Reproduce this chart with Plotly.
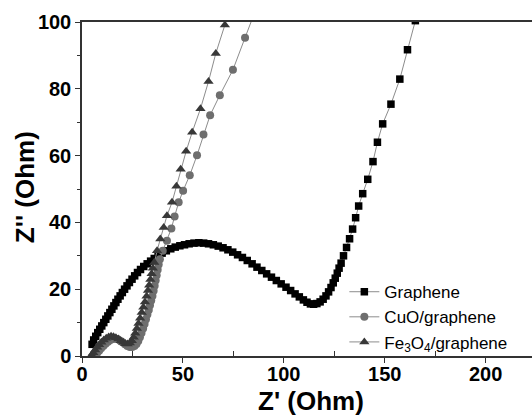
import plotly.graph_objects as go

# ---- data ----
graphene_x = [5.0, 5.8, 6.8, 7.8, 8.8, 9.8, 10.8, 11.8, 12.8, 13.8, 14.8, 15.8, 16.8, 17.8, 18.9,
              20.0, 21.1, 22.3, 23.5, 24.8, 26.1, 27.5, 29.0, 30.6, 32.3, 34.0, 35.8, 37.7, 39.7,
              41.8, 44.0, 46.2, 48.5, 50.8, 53.1, 55.5, 57.9, 60.3, 62.7, 65.1, 67.5, 69.9, 72.3,
              74.7, 77.1, 79.5, 81.9, 84.3, 86.7, 89.1, 91.5, 93.9, 96.3, 98.7, 101.1, 103.4,
              105.6, 107.7, 109.7, 111.5, 113.2, 114.8, 116.4, 118.0, 119.5, 120.9, 122.2, 123.4,
              124.5, 125.5, 126.5, 127.4, 128.4, 129.6, 131.1, 132.6, 134.1, 135.6, 137.1, 139.1,
              141.6, 144.2, 146.4, 149.0, 153.1, 157.5, 161.3, 165.2]
graphene_y = [3.5, 4.8, 5.9, 7.0, 8.0, 9.0, 10.0, 11.0, 12.0, 13.0, 14.0, 15.0, 16.0, 17.0, 18.0,
              19.0, 20.0, 21.0, 22.0, 23.0, 24.0, 25.0, 25.9, 26.8, 27.6, 28.4, 29.2, 30.0, 30.8,
              31.5, 32.1, 32.6, 33.0, 33.3, 33.6, 33.8, 33.9, 33.8, 33.6, 33.3, 32.9, 32.4, 31.8,
              31.1, 30.3, 29.5, 28.6, 27.6, 26.6, 25.6, 24.6, 23.6, 22.6, 21.6, 20.6, 19.6,
              18.6, 17.7, 16.8, 16.1, 15.6, 15.5, 15.7, 16.2, 17.0, 18.0, 19.2, 20.5,
              21.9, 23.3, 24.8, 26.3, 27.8, 30.0, 32.5, 35.1, 38.0, 41.4, 44.9, 48.6,
              52.9, 58.2, 64.0, 69.5, 75.4, 82.9, 91.7, 100.4]

cuo_x = [6.5, 7.5, 8.5, 9.5, 10.6, 11.7, 12.9, 14.1, 15.3, 16.5, 17.7, 18.9, 20.1, 21.3, 22.5,
         23.7, 24.9, 26.0, 27.0, 27.9, 28.7, 29.5, 30.3, 31.0, 31.7, 32.4, 33.1, 33.7, 34.3,
         34.9, 35.5, 36.0, 36.5, 37.0, 37.5, 38.0, 38.6, 40.0, 42.1, 44.3, 45.9, 47.9, 50.1,
         53.4, 57.0, 60.2, 63.5, 68.3, 74.8, 80.8, 86.6]
cuo_y = [0.2, 0.9, 1.6, 2.3, 3.0, 3.7, 4.3, 4.8, 5.1, 5.2, 5.0, 4.6, 4.1, 3.5, 3.0,
         2.7, 2.7, 3.0, 3.6, 4.5, 5.6, 6.9, 8.2, 9.6, 11.0, 12.4, 13.8, 15.2, 16.6,
         18.0, 19.5, 21.0, 22.6, 24.2, 25.8, 27.4, 29.0, 31.5, 34.5, 38.2, 41.8, 46.0, 49.5,
         54.1, 60.1, 66.3, 72.1, 78.1, 85.7, 95.3, 104.5]

fe3o4_x = [4.8, 5.6, 6.5, 7.5, 8.5, 9.6, 10.8, 12.0, 13.2, 14.4, 15.6, 16.8, 18.0, 19.2, 20.4,
           21.5, 22.6, 23.7, 24.7, 25.6, 26.4, 27.2, 28.0, 28.8, 29.6, 30.4, 31.2, 32.0, 32.7,
           33.3, 33.9, 34.5, 35.1, 35.8, 37.2, 38.8, 40.5, 42.1, 44.6, 46.8, 48.9, 51.6, 54.6,
           58.7, 62.7, 66.3, 70.8]
fe3o4_y = [0.3, 1.0, 1.8, 2.6, 3.4, 4.1, 4.8, 5.3, 5.7, 5.9, 5.8, 5.5, 5.1, 4.6, 4.1,
           3.7, 3.6, 3.9, 4.6, 5.6, 6.8, 8.2, 9.7, 11.3, 13.0, 14.6, 16.2, 17.9, 19.6,
           21.2, 22.9, 24.6, 26.3, 28.0, 31.5, 35.0, 38.5, 42.0, 46.0, 50.8, 55.9, 61.3, 67.0,
           74.0, 82.2, 90.6, 99.1]

x_ticks = [0, 50, 100, 150, 200]
y_ticks = [0, 20, 40, 60, 80, 100]
x_title = "Z' (Ohm)"
y_title = "Z'' (Ohm)"

FONT = "Liberation Sans, Arial, sans-serif"
LINE_COLOR = "#8c8c8c"

fig = go.Figure()
fig.add_trace(go.Scatter(
    x=graphene_x, y=graphene_y, mode="lines+markers", name="Graphene",
    line=dict(color=LINE_COLOR, width=1),
    marker=dict(symbol="square", size=7.5, color="#000000"),
))
fig.add_trace(go.Scatter(
    x=cuo_x, y=cuo_y, mode="lines+markers", name="CuO/graphene",
    line=dict(color=LINE_COLOR, width=1),
    marker=dict(symbol="circle", size=8, color="#6e6e6e"),
))
fig.add_trace(go.Scatter(
    x=fe3o4_x, y=fe3o4_y, mode="lines+markers", name="Fe<sub>3</sub>O<sub>4</sub>/graphene",
    line=dict(color=LINE_COLOR, width=1),
    marker=dict(symbol="triangle-up", size=9, color="#383838"),
))

fig.update_layout(
    width=532, height=415,
    margin=dict(l=82, r=0, t=22, b=59, autoexpand=False),
    paper_bgcolor="white", plot_bgcolor="white",
    font=dict(family=FONT, color="#000000"),
    showlegend=True,
    legend=dict(
        x=0.583, y=0.245, xanchor="left", yanchor="top",
        bgcolor="rgba(0,0,0,0)", borderwidth=0,
        font=dict(family=FONT, size=17, color="#000000"),
        tracegroupgap=0, itemwidth=30,
    ),
    annotations=[
        dict(text=x_title, xref="paper", yref="paper", x=0.508, y=-0.134,
             xanchor="center", yanchor="middle", showarrow=False,
             font=dict(family=FONT, size=26, weight="bold", color="#000000")),
        dict(text=y_title, xref="paper", yref="paper", x=-0.127, y=0.505,
             xanchor="center", yanchor="middle", showarrow=False, textangle=-90,
             font=dict(family=FONT, size=26, weight="bold", color="#000000")),
    ],
)

fig.update_xaxes(
    range=[0, 223], tickvals=x_ticks, ticktext=[str(v) for v in x_ticks],
    automargin=False,
    showgrid=False, zeroline=False,
    showline=True, linecolor="#333333", linewidth=1.5, mirror=True,
    ticks="outside", ticklen=5, tickwidth=1.2, tickcolor="#333333",
    minor=dict(tickvals=[25, 75, 125, 175], ticks="inside", ticklen=5,
               tickwidth=1.2, tickcolor="#333333", showgrid=False),
    tickfont=dict(family=FONT, size=20, weight="bold"),
    ticklabelstandoff=-6,
)
fig.update_yaxes(
    range=[0, 100], tickvals=y_ticks, ticktext=[str(v) for v in y_ticks],
    automargin=False,
    showgrid=False, zeroline=False,
    showline=True, linecolor="#333333", linewidth=1.5, mirror=False,
    ticks="outside", ticklen=5, tickwidth=1.2, tickcolor="#333333",
    minor=dict(tickvals=[10, 30, 50, 70, 90], ticks="outside", ticklen=3,
               tickwidth=1.2, tickcolor="#333333", showgrid=False),
    tickfont=dict(family=FONT, size=20, weight="bold"),
)

fig.write_html(
    "out.html",
    config={"displayModeBar": False},
    post_script="document.body.style.margin='0';document.body.style.overflow='hidden';",
)
